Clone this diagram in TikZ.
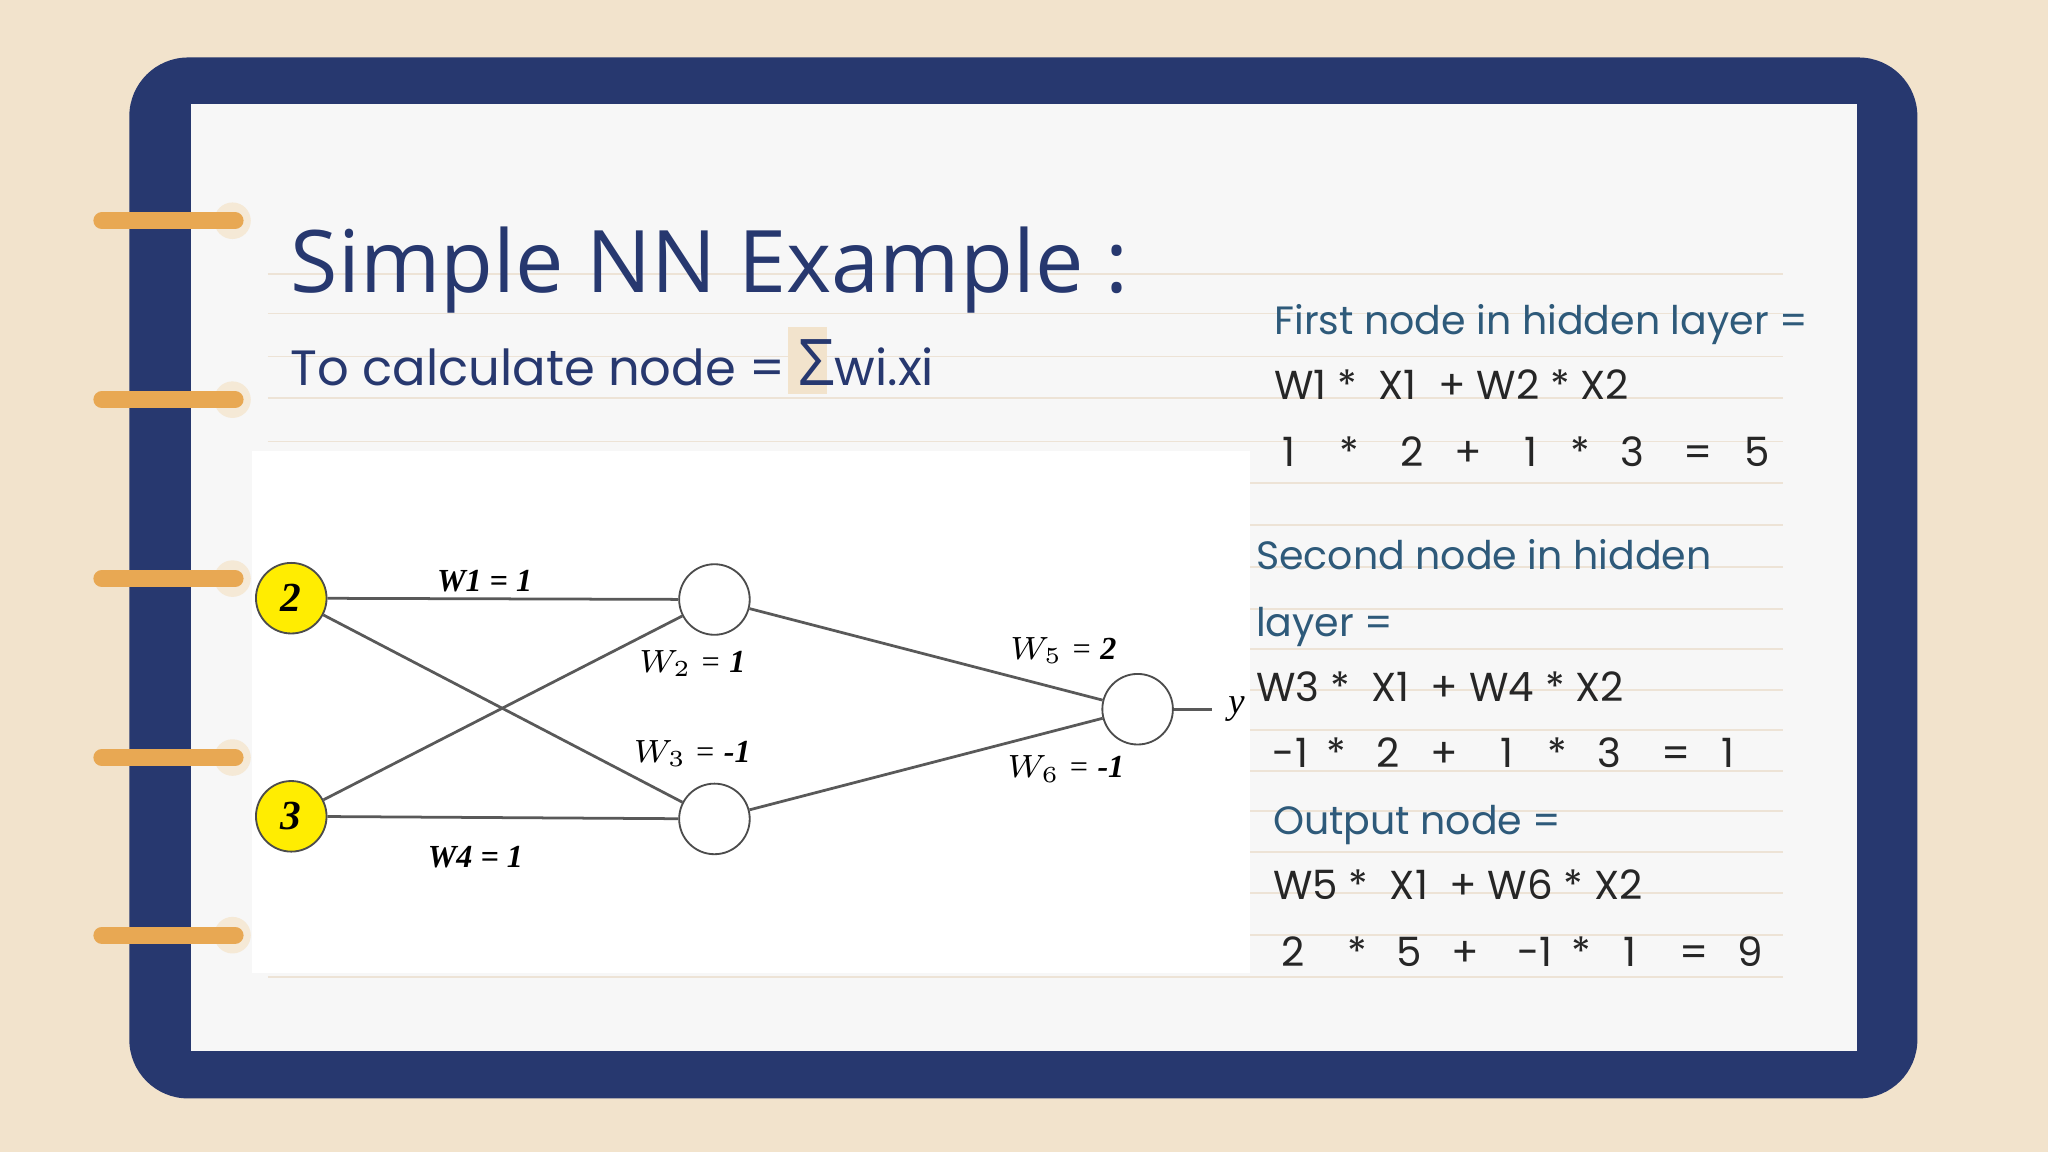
\documentclass[tikz,border=0pt]{standalone}
\usepackage{fontspec}
\setmainfont{Liberation Serif}
\newfontfamily\slidefont{Open Sans}
\newfontfamily\calcfont{Poppins}
\usetikzlibrary{positioning}
\definecolor{paper}{HTML}{F2E3CC}
\definecolor{navy}{HTML}{27386F}
\definecolor{ringbar}{HTML}{E8A853}
\definecolor{teal}{HTML}{2E5A7A}
\definecolor{ruled}{HTML}{EDE3D6}
\begin{document}
\begin{tikzpicture}[x=0.01cm,y=-0.01cm,
    neuron/.style={circle,draw=black!70,fill=white,minimum size=0.54cm,inner sep=0pt},
    input/.style={neuron,fill=yellow!95!orange,font=\bfseries\itshape\fontsize{9}{9}\selectfont},
    link/.style={draw=black!65,line width=0.6pt},
    wlabel/.style={font=\itshape\fontsize{7}{7}\selectfont},
    heading/.style={anchor=base west,text=teal,font=\calcfont\fontsize{8.6}{8.6}\selectfont,inner sep=0pt},
    eqline/.style={anchor=base west,text=black!85,font=\calcfont\fontsize{8.8}{8.8}\selectfont,inner sep=0pt},
    token/.style={anchor=base,text=black!85,font=\calcfont\fontsize{8.8}{8.8}\selectfont,inner sep=0pt}
  ]
    \useasboundingbox (0,0) rectangle (1568,882);
    \fill[paper] (0,0) rectangle (1568,882);
    \fill[navy,rounded corners=0.45cm] (99,44) rectangle (1468,841);
    \fill[white!97!black] (146,80) rectangle (1422,805);

    % ruled lines
    \foreach \yy in {210,240,273,305,338,370,402,434,466,497,528,559,590,621,652,684,716,748}
        \draw[ruled,line width=0.4pt] (205,\yy) -- (1365,\yy);

    % rings
    \foreach \yy in {169,306,443,580,716} {
        \fill[paper!80!white] (178,\yy) circle (0.14cm);
        \draw[ringbar,line width=0.13cm,line cap=round] (78,\yy) -- (180,\yy);
    }

    \node[anchor=base west,text=navy,font=\slidefont\fontsize{18.8}{18.8}\selectfont,inner sep=0pt]
        (title) at (222,224) {Simple NN Example :};
    \fill[paper] (603,250) rectangle (633,302);
    \node[anchor=base west,text=navy,font=\calcfont\fontsize{10.8}{10.8}\selectfont,inner sep=0pt]
        (formula) at (222,295) {To calculate node = {\slidefont\fontsize{14}{14}\selectfont\char"03A3}wi.xi};

    % network picture
    \fill[white] (193,345) rectangle (957,745);
    \node[input] (x1) at (223,458) {2};
    \node[input] (x2) at (223,625) {3};
    \node[neuron] (h1) at (547,459) {};
    \node[neuron] (h2) at (547,627) {};
    \node[neuron] (out) at (871,543) {};
    \coordinate (yend) at (928,543);
    \draw[link] (x1) -- (h1);
    \draw[link] (x1) -- (h2);
    \draw[link] (x2) -- (h1);
    \draw[link] (x2) -- (h2);
    \draw[link] (h1) -- (out);
    \draw[link] (h2) -- (out);
    \draw[link] (out) -- (yend);
    \node[right=0pt of yend,font=\itshape\fontsize{8}{8}\selectfont] (y) {y};
    \node[wlabel,font=\bfseries\itshape\fontsize{7}{7}\selectfont] (w1) at (371,445) {W1 = 1};
    \node[wlabel] (w2) at (530,508) {$W_2$ = \textbf{1}};
    \node[wlabel] (w3) at (530,577) {$W_3$ = \textbf{-1}};
    \node[wlabel,font=\bfseries\itshape\fontsize{7}{7}\selectfont] (w4) at (364,656) {W4 = 1};
    \node[wlabel] (w5) at (814,498) {$W_5$ = \textbf{2}};
    \node[wlabel] (w6) at (816,589) {$W_6$ = \textbf{-1}};

    % calculations
    \node[heading] (first) at (975,256) {First node in hidden layer =};
    \node[eqline] (e1) at (975,306) {W1 *\ \ X1\ \ + W2 * X2};
    \foreach \xx/\tt in {987/1,1033/*,1081/2,1124/+,1172/1,1210/*,1250/3,1300/=,1345/5}
        \node[token] at (\xx,357) {\tt};
    \node[heading] (second) at (961,436) {Second node in hidden};
    \node[heading] (second2) at (961,487) {layer =};
    \node[eqline] (e3) at (961,537) {W3 *\ \ X1\ \ + W4 * X2};
    \foreach \xx/\tt in {988/-1,1023/*,1063/2,1106/+,1154/1,1192/*,1232/3,1283/=,1323/1}
        \node[token] at (\xx,588) {\tt};
    \node[heading] (output) at (974,639) {Output node =};
    \node[eqline] (e5) at (974,689) {W5 *\ \ X1\ \ + W6 * X2};
    \foreach \xx/\tt in {990/2,1039/*,1079/5,1122/+,1175/-1,1211/*,1248/1,1297/=,1340/9}
        \node[token] at (\xx,740) {\tt};
\end{tikzpicture}
\end{document}
